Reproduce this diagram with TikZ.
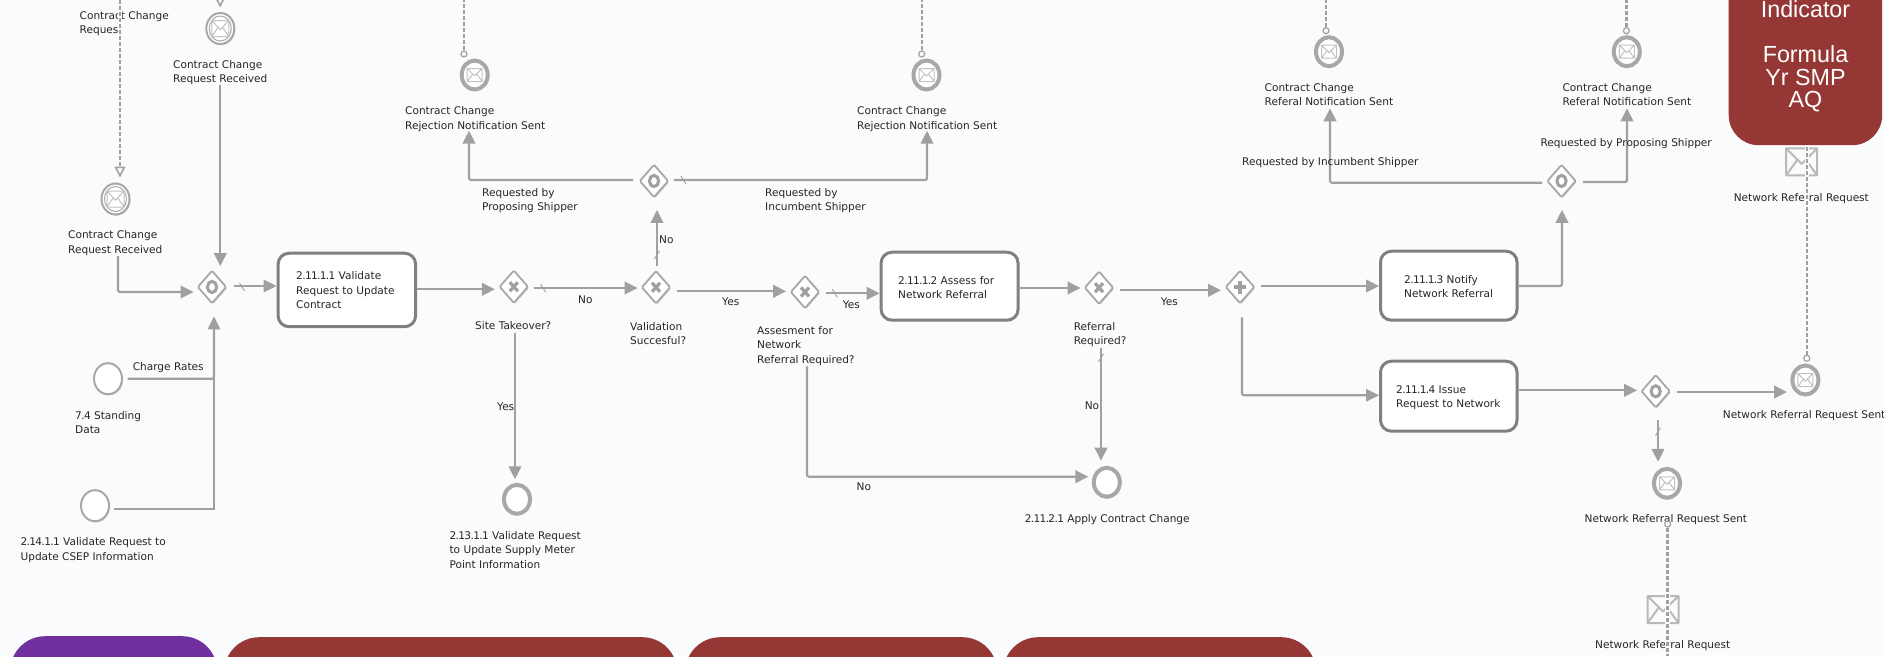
\documentclass[tikz,border=0pt]{standalone}
\usepackage{fontspec}
\setmainfont{DejaVu Sans}
\newfontfamily\panelfont{Liberation Sans}
\usetikzlibrary{arrows.meta,shapes.geometric,shadows}
\definecolor{bgc}{HTML}{FAFBFD}
\definecolor{flowc}{HTML}{A0A0A0}
\definecolor{evc}{HTML}{A8A8A8}
\definecolor{boxc}{HTML}{808080}
\definecolor{redc}{HTML}{953735}
\definecolor{purc}{HTML}{7030A0}
\definecolor{txt}{HTML}{262626}
\tikzset{
 softshadow/.style={drop shadow={shadow xshift=1pt,shadow yshift=-1.2pt,opacity=.35,fill=gray}},
 lab/.style={anchor=north west,inner sep=0,align=left,text=txt,font=\fontsize{10.55}{14.4}\selectfont},
 flow/.style={draw=flowc,line width=2.2,rounded corners=2,-{Triangle[length=13,width=12.5]}},
 flowplain/.style={draw=flowc,line width=2.2},
 tickm/.style={draw=flowc,line width=.9},
 msg/.style={draw=flowc,line width=2.3,dash pattern=on 4 off 2,preaction={draw=bgc,solid,line width=4.5}},
 msgin/.style={msg,-{Triangle[open,length=11,width=11,line width=1.6]}},
 msgdot/.style={circle,draw=flowc,line width=1.2,fill=bgc,minimum size=6,inner sep=0},
 plainev/.style={ellipse,draw=evc,line width=2,fill=white,minimum width=28,minimum height=31,inner sep=0,softshadow},
 endev/.style={ellipse,draw=evc,line width=4,fill=white,minimum width=26,minimum height=29,inner sep=0,softshadow},
 gw/.style={diamond,draw=evc,line width=1.8,fill=white,minimum width=29,minimum height=33,inner sep=0,rounded corners=1.2,softshadow},
 gwm/.style={draw=flowc,line width=3},
 taskbox/.style={rectangle,draw=boxc,line width=3,fill=white,rounded corners=11,inner sep=0,anchor=north west},
 panel/.style={rectangle,inner sep=0,anchor=north west,rounded corners=35},
 bigenv/.style={rectangle,draw=none,minimum width=32,minimum height=28,inner sep=0}
}
\newcommand\lab[4]{\node[lab] (#1) at (#2,{#3-4}) {#4};}
\newcommand\dg[1]{{\addfontfeatures{LetterSpace=-6}#1}}
\newcommand\envm[5]{\begin{scope}[shift={(#1)}]
 \draw[draw=#5,line width=#4,line join=round] (-#2,-#3) rectangle (#2,#3)
  (-#2,-#3) -- (0,{.15*#3}) -- (#2,-#3)
  (-#2,#3) -- ({-.3*#2},{-.1*#3}) ({.3*#2},{-.1*#3}) -- (#2,#3);
 \end{scope}}
\newcommand\gwcirc[1]{\draw[gwm] (#1.center) ellipse [x radius=4.6,y radius=5.6];}
\newcommand\gwx[1]{\begin{scope}[shift={(#1.center)}]\draw[gwm,line width=3.2] (-4,-4.5)--(4,4.5) (-4,4.5)--(4,-4.5);\end{scope}}
\newcommand\gwp[1]{\begin{scope}[shift={(#1.center)}]\draw[gwm,line width=3.2] (-6,0)--(6,0) (0,-6.5)--(0,6.5);\end{scope}}
\newcommand\tickh[2]{\draw[tickm] (#1-2.5,#2-4)--(#1+2.5,#2+4);}
\newcommand\tickv[2]{\draw[tickm] (#1-2.5,#2+4)--(#1+2.5,#2-4);}
\begin{document}
\begin{tikzpicture}[x=1pt,y=-1pt]
\useasboundingbox (0,0) rectangle (1884,656);
\fill[bgc] (0,0) rectangle (1884,656);
% panels
\node[panel,fill=purc,minimum width=207,minimum height=70] (pp) at (10,636) {};
\node[panel,fill=redc,minimum width=453,minimum height=70] (r1) at (224,637) {};
\node[panel,fill=redc,minimum width=312,minimum height=70] (r2) at (685,637) {};
\node[panel,fill=redc,minimum width=313,minimum height=70] (r3) at (1003,637) {};
\node[panel,fill=redc,rounded corners=30,minimum width=153.5,minimum height=195] (r4) at (1728.5,-50) {};
\node[align=center,text=white,inner sep=0,anchor=north,font=\panelfont\fontsize{23.3}{22.6}\selectfont] (r4t) at (1805.5,0.5) {Indicator\\ \\Formula\\Yr SMP\\AQ};
% events
\node[plainev] (e1) at (115.5,199) {};
\draw[evc,line width=1] (e1.center) ellipse [x radius=11,y radius=12.5];
\envm{e1.center}{8.5}{8}{1}{evc!70}
\node[plainev] (e2) at (220.3,28.5) {};
\draw[evc,line width=1] (e2.center) ellipse [x radius=11,y radius=12.5];
\envm{e2.center}{8.5}{8}{1}{evc!70}
\node[plainev] (e3) at (108,378.7) {};
\node[plainev] (e4) at (95,505.7) {};
\node[endev] (e5) at (517,499.3) {};
\node[endev] (e6) at (474.7,75) {};
\envm{e6.center}{7.5}{6.5}{1}{evc!70}
\node[endev] (e7) at (926.5,75) {};
\envm{e7.center}{7.5}{6.5}{1}{evc!70}
\node[endev] (e8) at (1106.8,482.3) {};
\node[endev] (e9) at (1329,51.7) {};
\envm{e9.center}{7.5}{6.5}{1}{evc!70}
\node[endev] (e10) at (1626.8,51.7) {};
\envm{e10.center}{7.5}{6.5}{1}{evc!70}
\node[endev] (e11) at (1805.4,380) {};
\envm{e11.center}{7.5}{6.5}{1}{evc!70}
\node[endev] (e12) at (1667,483.3) {};
\envm{e12.center}{7.5}{6.5}{1}{evc!70}
% gateways
\node[gw] (g1) at (212,287) {}; \gwcirc{g1}
\node[gw] (g2) at (513.8,286.7) {}; \gwx{g2}
\node[gw] (g3) at (656,287.3) {}; \gwx{g3}
\node[gw] (g4) at (654,181) {}; \gwcirc{g4}
\node[gw] (g5) at (805,292) {}; \gwx{g5}
\node[gw] (g6) at (1099,287.7) {}; \gwx{g6}
\node[gw] (g7) at (1240,287) {}; \gwp{g7}
\node[gw] (g8) at (1561.5,181) {}; \gwcirc{g8}
\node[gw] (g9) at (1655.7,391.3) {}; \gwcirc{g9}
% tasks
\node[taskbox,minimum width=137.5,minimum height=73.5] (t1) at (276.6,251.7) {};
\node[taskbox,minimum width=137,minimum height=68] (t2) at (879.6,250.7) {};
\node[taskbox,minimum width=136.5,minimum height=69] (t3) at (1379,249.7) {};
\node[taskbox,minimum width=136.5,minimum height=70] (t4) at (1379,359.7) {};
% flows
\draw[flow] ([shift={(2.5,40.5)}]e1.south) |- ([shift={(-3,5)}]g1.west);
\draw[flow] ([shift={(0,39.5)}]e2.south) -- ([shift={(0,-3.5)}]g1.north -| e2);
\draw[flow] ([shift={(6.5,-1)}]g1.east) -- (t1.west |- {(0,286)});
\draw[flow] (e3.east) ++(4.5,0) -| ([shift={(2,12)}]g1.south);
\draw[flowplain] ([shift={(3.5,3)}]e4.east) -| ([shift={(2,40)}]g1.south);
\draw[flow] (t1.east |- {(0,289.3)}) -- ([shift={(-3.5,0)}]g2.west |- {(0,289.3)});
\draw[flow] ([shift={(4.5,1.3)}]g2.east) -- ([shift={(-3,0.7)}]g3.west);
\draw[flow] ([shift={(1.2,28.5)}]g2.south) -- ([shift={(-2,-3.5)}]e5.north);
\draw[flow] ([shift={(1,-4)}]g3.north) -- ([shift={(3,11.5)}]g4.south);
\draw[flow] ([shift={(-5.5,-1)}]g4.west) -| ([shift={(-5.7,0)}]e6.south |- {(0,130.7)});
\draw[flow] ([shift={(4.5,-1)}]g4.east) -| ([shift={(0.5,0)}]e7.south |- {(0,130.7)});
\draw[flow] ([shift={(5.7,4)}]g3.east) -- ([shift={(-3.5,-0.7)}]g5.west);
\draw[flow] ([shift={(5.3,1.3)}]g5.east) -- (t2.west |- {(0,293.3)});
\draw[flow] ([shift={(2,57)}]g5.south) |- ([shift={(-3.5,-5.6)}]e8.west);
\draw[flow] (t2.east |- {(0,288)}) -- ([shift={(-3,0.3)}]g6.west);
\draw[flow] ([shift={(2,43)}]g6.south) -- ([shift={(-5.8,-5.1)}]e8.north);
\draw[flow] ([shift={(5.3,2.6)}]g6.east) -- ([shift={(-3.5,3.3)}]g7.west);
\draw[flow] ([shift={(6,-1)}]g7.east) -- (t3.west |- {(0,286)});
\draw[flow] ([shift={(2,13)}]g7.south) |- (t4.west |- {(0,395.3)});
\draw[flow] (t3.east |- {(0,286)}) -| ([shift={(0.5,11.5)}]g8.south);
\draw[flow] ([shift={(-4,1.7)}]g8.west) -| ([shift={(1,0)}]e9.south |- {(0,108.3)});
\draw[flow] ([shift={(6.3,1)}]g8.east) -| ([shift={(0.2,0)}]e10.south |- {(0,108.3)});
\draw[flow] (t4.east |- {(0,390.3)}) -- ([shift={(-3.2,-1)}]g9.west);
\draw[flow] ([shift={(6,0.7)}]g9.east) -- ([shift={(-3.4,12)}]e11.west);
\draw[flow] ([shift={(2.3,11.5)}]g9.south) -- ([shift={(-9,-5)}]e12.north);
\tickh{242}{287}\tickh{543}{288}\tickv{657}{255}\tickh{683.4}{180}\tickh{834.8}{293.3}\tickv{1101}{357.7}\tickv{1658}{431.7}
% labels
\lab{l1}{79.5}{15}{Contract Change\\Request}
\lab{l2}{173}{64}{Contract Change\\Request Received}
\lab{l3}{68}{234.5}{Contract Change\\Request Received}
\lab{l4}{132.6}{366.7}{Charge Rates}
\lab{l5}{75}{415}{\dg{7.4} Standing\\Data}
\lab{l6}{20.4}{541.7}{\dg{2.14.1.1} Validate Request to\\Update CSEP Information}
\lab{l7}{449.4}{535}{\dg{2.13.1.1} Validate Request\\to Update Supply Meter\\Point Information}
\lab{l8}{497}{406.7}{Yes}
\lab{t1t}{296}{275.7}{\dg{2.11.1.1} Validate\\Request to Update\\Contract}
\lab{l9}{475}{325}{Site Takeover?}
\lab{l10}{578}{299.3}{No}
\lab{l11}{630}{326}{Validation\\Succesful?}
\lab{l12}{659}{239.3}{No}
\lab{l13}{405}{110.7}{Contract Change\\Rejection Notification Sent}
\lab{l14}{857}{110.7}{Contract Change\\Rejection Notification Sent}
\lab{l15}{482}{192.3}{Requested by\\Proposing Shipper}
\lab{l16}{765}{192.3}{Requested by\\Incumbent Shipper}
\lab{l17}{722}{301.3}{Yes}
\lab{l18}{842.7}{304.3}{Yes}
\lab{l19}{757}{330}{Assesment for\\Network\\Referral Required?}
\lab{t2t}{898}{280}{\dg{2.11.1.2} Assess for\\Network Referral}
\lab{l20}{856.4}{487}{No}
\lab{l21}{1073.6}{326}{Referral\\Required?}
\lab{l22}{1084.6}{405.3}{No}
\lab{l23}{1160.7}{301.3}{Yes}
\lab{l24}{1024.6}{518}{\dg{2.11.2.1} Apply Contract Change}
\lab{t3t}{1404}{279.3}{\dg{2.11.1.3} Notify\\Network Referral}
\lab{t4t}{1396}{389}{\dg{2.11.1.4} Issue\\Request to Network}
\lab{l25}{1264.5}{87}{Contract Change\\Referal Notification Sent}
\lab{l26}{1562.4}{87}{Contract Change\\Referal Notification Sent}
\lab{l27}{1242}{161.3}{Requested by Incumbent Shipper}
\lab{l28}{1540.3}{142.7}{Requested by Proposing Shipper}
\lab{l29}{1722.7}{414.7}{Network Referral Request Sent}
\lab{l30}{1584.5}{518}{Network Referral Request Sent}
\lab{l31}{1733.6}{197.3}{Network Referral Request}
\lab{l32}{1595}{644.3}{Network Referral Request}
% envelopes
\node[bigenv] (n1) at (1801.6,161.8) {};
\envm{n1.center}{15.5}{13.5}{2}{evc!80}
\node[bigenv] (n2) at (1663,609.5) {};
\envm{n2.center}{15.5}{13.5}{2}{evc!80}
% message flows
\coordinate (m1a) at (120,0);
\coordinate (m2a) at (220,-4);
\draw[msgin] (m1a) -- ([shift={(4.5,-5)}]e1.north);
\draw[msgin] (m2a) -- ([shift={(0,-4.5)}]e2.north);
\node[msgdot] (d1) at (464,54) {};
\node[msgdot] (d2) at (921.7,54) {};
\node[msgdot] (d3) at (1326,30.7) {};
\node[msgdot] (d4) at (1626.4,30.7) {};
\node[msgdot] (d5) at (1806.8,358.3) {};
\node[msgdot] (d6) at (1667.6,524) {};
\coordinate (m3a) at (464,0);
\coordinate (m4a) at (921.7,0);
\coordinate (m5a) at (1326,0);
\coordinate (m6a) at (1626.4,0);
\coordinate (m8a) at (1667.6,656);
\draw[msg] (d1.north) -- (m3a);
\draw[msg] (d2.north) -- (m4a);
\draw[msg] (d3.north) -- (m5a);
\draw[msg] (d4.north) -- (m6a);
\draw[msg] (d5.north) -- (d5.north |- r4.south);
\draw[msg] (d6.south) -- (m8a);
\end{tikzpicture}
\end{document}
